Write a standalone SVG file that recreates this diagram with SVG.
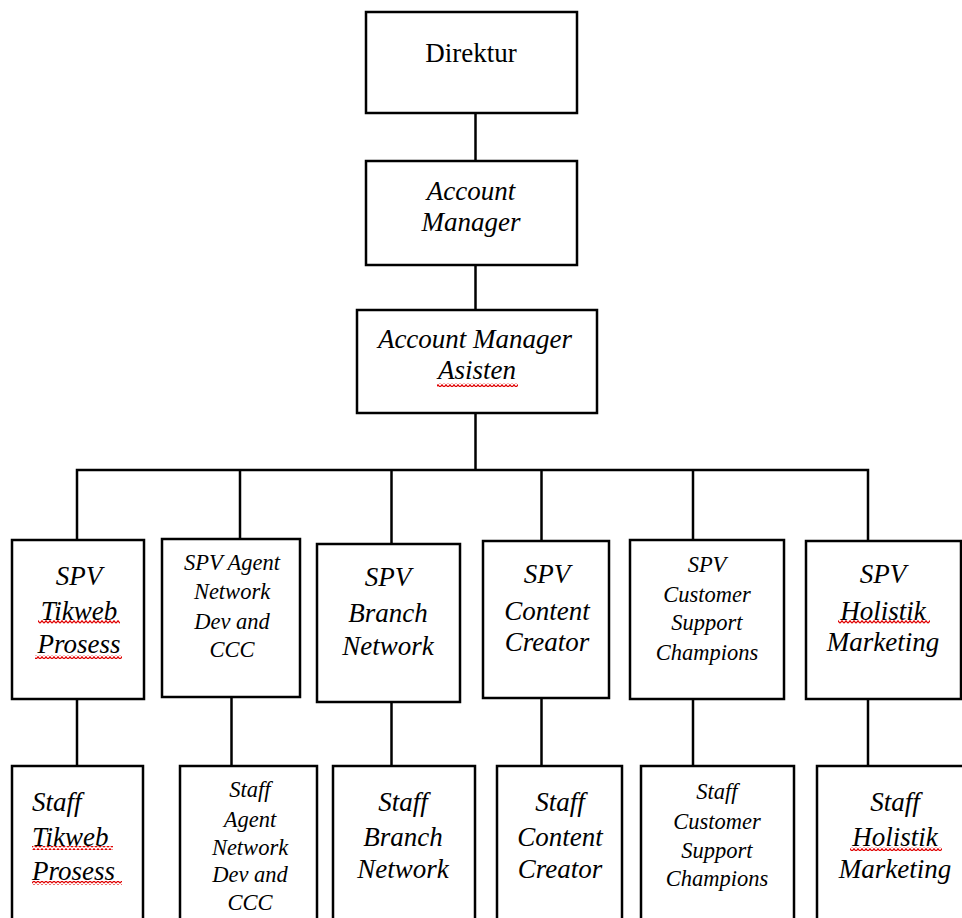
<svg xmlns="http://www.w3.org/2000/svg" width="962" height="918" viewBox="0 0 962 918">
<style>
.box{fill:#fff;stroke:#000;stroke-width:2.5}
.ln{stroke:#000;stroke-width:2.5;fill:none}
text{font-family:"Liberation Serif","Times New Roman",serif;fill:#000;text-anchor:middle}
.t{font-size:27px;font-style:italic}
.s{font-size:22.5px;font-style:italic}
.r{font-size:27px}
.sq{fill:url(#wave)}
</style>
<defs>
<pattern id="wave" width="4" height="4" patternUnits="userSpaceOnUse">
<polyline points="0,3.2 2,0.8 4,3.2" fill="none" stroke="#e00000" stroke-width="1.3"/>
</pattern>
</defs>
<g id="connectors">
<line class="ln" x1="475.5" y1="113" x2="475.5" y2="161"/>
<line class="ln" x1="475.5" y1="265" x2="475.5" y2="310"/>
<line class="ln" x1="475.5" y1="413" x2="475.5" y2="470"/>
<polyline class="ln" points="77,540 77,470 868,470 868,541"/>
<line class="ln" x1="240" y1="470" x2="240" y2="539"/>
<line class="ln" x1="391.5" y1="470" x2="391.5" y2="544"/>
<line class="ln" x1="541.5" y1="470" x2="541.5" y2="541"/>
<line class="ln" x1="693" y1="470" x2="693" y2="540"/>
<line class="ln" x1="77" y1="699" x2="77" y2="766"/>
<line class="ln" x1="231.5" y1="697" x2="231.5" y2="766"/>
<line class="ln" x1="391.5" y1="702" x2="391.5" y2="766"/>
<line class="ln" x1="541.5" y1="698" x2="541.5" y2="766"/>
<line class="ln" x1="693" y1="699" x2="693" y2="766"/>
<line class="ln" x1="868" y1="699" x2="868" y2="766"/>
</g>
<g id="direktur">
<rect class="box" x="366" y="12" width="211" height="101"/>
<text class="r" x="471" y="62">Direktur</text>
</g>
<g id="account-manager">
<rect class="box" x="366" y="161" width="211" height="104"/>
<text class="t" x="471" y="200">Account</text>
<text class="t" x="471" y="231">Manager</text>
</g>
<g id="account-manager-asisten">
<rect class="box" x="357" y="310" width="240" height="103"/>
<text class="t" x="475" y="348">Account Manager</text>
<text class="t" x="477" y="379">Asisten</text>
<rect class="sq" x="437" y="383" width="81" height="4"/>
</g>
<g id="spv-tikweb">
<rect class="box" x="12" y="540" width="132" height="159"/>
<text class="t" x="79" y="585">SPV</text>
<text class="t" x="79" y="620">Tikweb</text>
<text class="t" x="79" y="653">Prosess</text>
<rect class="sq" x="38" y="620" width="82" height="4"/>
<rect class="sq" x="35" y="655" width="87" height="4"/>
</g>
<g id="spv-agent">
<rect class="box" x="162" y="539" width="138" height="158"/>
<text class="s" x="232" y="570">SPV Agent</text>
<text class="s" x="232" y="599">Network</text>
<text class="s" x="232" y="629">Dev and</text>
<text class="s" x="232" y="657">CCC</text>
</g>
<g id="spv-branch">
<rect class="box" x="317" y="544" width="143" height="158"/>
<text class="t" x="388" y="586">SPV</text>
<text class="t" x="388" y="622">Branch</text>
<text class="t" x="388" y="655">Network</text>
</g>
<g id="spv-content">
<rect class="box" x="483" y="541" width="126" height="157"/>
<text class="t" x="547" y="583">SPV</text>
<text class="t" x="547" y="620">Content</text>
<text class="t" x="547" y="651">Creator</text>
</g>
<g id="spv-customer">
<rect class="box" x="630" y="540" width="154" height="159"/>
<text class="s" x="707" y="572">SPV</text>
<text class="s" x="707" y="602">Customer</text>
<text class="s" x="707" y="630">Support</text>
<text class="s" x="707" y="660">Champions</text>
</g>
<g id="spv-holistik">
<rect class="box" x="806" y="541" width="155" height="158"/>
<text class="t" x="883" y="583">SPV</text>
<text class="t" x="883" y="620">Holistik</text>
<text class="t" x="883" y="651">Marketing</text>
<rect class="sq" x="838" y="620" width="92" height="4"/>
</g>
<g id="staff-tikweb">
<rect class="box" x="12" y="766" width="131" height="170"/>
<text class="t" x="32" y="811" style="text-anchor:start">Staff</text>
<text class="t" x="32" y="846" style="text-anchor:start">Tikweb</text>
<text class="t" x="32" y="880" style="text-anchor:start">Prosess</text>
<rect class="sq" x="32" y="846" width="81" height="4"/>
<rect class="sq" x="32" y="881" width="90" height="4"/>
</g>
<g id="staff-agent">
<rect class="box" x="180" y="766" width="137" height="170"/>
<text class="s" x="250" y="797">Staff</text>
<text class="s" x="250" y="827">Agent</text>
<text class="s" x="250" y="855">Network</text>
<text class="s" x="250" y="882">Dev and</text>
<text class="s" x="250" y="910">CCC</text>
</g>
<g id="staff-branch">
<rect class="box" x="333" y="766" width="142" height="170"/>
<text class="t" x="403" y="811">Staff</text>
<text class="t" x="403" y="846">Branch</text>
<text class="t" x="403" y="878">Network</text>
</g>
<g id="staff-content">
<rect class="box" x="497" y="766" width="125" height="170"/>
<text class="t" x="560" y="811">Staff</text>
<text class="t" x="560" y="846">Content</text>
<text class="t" x="560" y="878">Creator</text>
</g>
<g id="staff-customer">
<rect class="box" x="641" y="766" width="153" height="170"/>
<text class="s" x="717" y="799">Staff</text>
<text class="s" x="717" y="829">Customer</text>
<text class="s" x="717" y="858">Support</text>
<text class="s" x="717" y="886">Champions</text>
</g>
<g id="staff-holistik">
<rect class="box" x="817" y="766" width="160" height="170"/>
<text class="t" x="895" y="811">Staff</text>
<text class="t" x="895" y="846">Holistik</text>
<text class="t" x="895" y="878">Marketing</text>
<rect class="sq" x="850" y="847" width="92" height="4"/>
</g>
</svg>
